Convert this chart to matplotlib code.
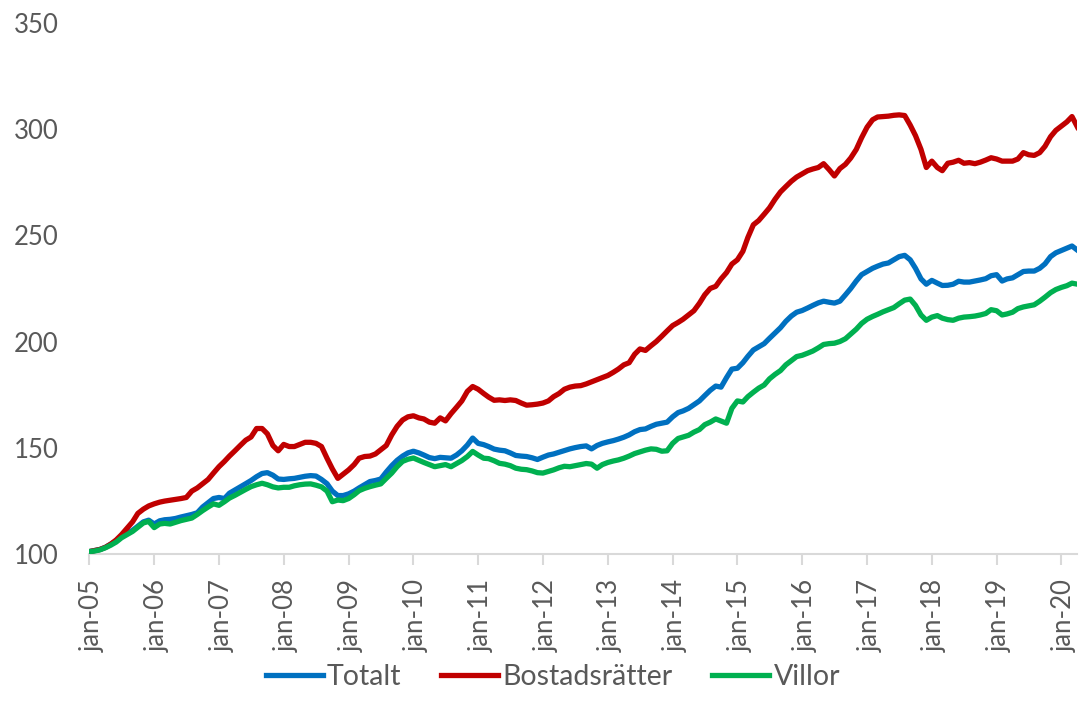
import pandas as pd
import matplotlib
matplotlib.use('Agg')
import matplotlib.pyplot as plt
import matplotlib.transforms as mtransforms

# Monthly index values, jan-05 .. apr-20
totalt = [
    101, 101.5, 102, 103, 104.5, 106, 108, 109.5, 111, 113, 115, 115.8,
    114, 115.5, 116, 116.2, 116.6, 117.3, 117.9, 118.5, 119.3, 122, 124, 126,
    126.5, 126, 128.5, 130, 131.5, 133, 134.5, 136.3, 137.8, 138.2, 137, 135.2,
    135, 135.3, 135.5, 136, 136.5, 136.8, 136.6, 135, 133, 129.5, 127.4, 127.4,
    128.2, 129.5, 131, 132.5, 134, 134.5, 135.2, 138.5, 141.5, 144, 146, 147.5,
    148.3, 147.5, 146.5, 145.3, 144.8, 145.4, 145.2, 145, 146.5, 148.5, 151.2, 154.5,
    152, 151.4, 150.5, 149.3, 148.8, 148.5, 147.5, 146.3, 146, 145.8, 145.2, 144.4,
    145.5, 146.5, 147, 147.8, 148.6, 149.4, 150, 150.5, 150.8, 149.4, 151, 152,
    152.7, 153.3, 154, 154.9, 156, 157.5, 158.5, 158.8, 160, 161, 161.5, 162,
    164.5, 166.5, 167.3, 168.5, 170.2, 172, 174.5, 177, 179, 178.5, 183, 187,
    187.4, 190, 193, 196, 197.5, 199, 201.5, 204, 206.5, 209.5, 212, 213.8,
    214.6, 215.8, 217, 218.2, 219, 218.5, 218.1, 219, 222, 225, 228.5, 231.5,
    233, 234.5, 235.5, 236.5, 237, 238.5, 240, 240.6, 238.5, 234.5, 229.5, 227,
    228.8, 227.5, 226.4, 226.5, 227, 228.4, 228, 228, 228.5, 229, 229.6, 231,
    231.5, 228.5, 229.5, 230, 231.5, 233, 233.2, 233.2, 234.5, 236.6, 240, 241.8,
    242.9, 244, 245, 243,
]

bostadsratter = [
    101, 101.5, 102, 103, 104.5, 106.5, 109, 112, 115, 119, 121, 122.5,
    123.5, 124.3, 124.8, 125.2, 125.6, 126, 126.5, 129.5, 131, 133, 135, 138,
    141, 143.5, 146, 148.5, 151, 153.5, 155, 159, 159, 156.5, 151, 148.5,
    151.5, 150.5, 150.5, 151.5, 152.5, 152.5, 152, 150.5, 145, 140, 135.5, 137.5,
    139.5, 142, 145, 145.8, 146, 147, 149, 151, 156, 160, 163, 164.5,
    165, 164, 163.5, 162, 161.5, 164, 162.6, 166, 169, 172, 176.5, 178.8,
    177.5, 175.5, 173.8, 172.3, 172.5, 172.2, 172.5, 172.2, 171, 170, 170.2, 170.5,
    171, 172, 174, 175.5, 177.5, 178.5, 179, 179.2, 180, 181, 182, 183,
    184, 185.5, 187, 189, 190, 194, 196.5, 195.8, 198, 200, 202.5, 205,
    207.5, 209, 210.5, 212.5, 214.5, 218, 222, 225, 226, 229.5, 232.5, 236.5,
    238.5, 242.5, 249, 255, 257, 260, 263, 267, 270.5, 273, 275.5, 277.5,
    279, 280.5, 281.3, 282, 283.8, 281, 278, 281.5, 283.5, 286.5, 290.5, 296,
    301, 304.5, 305.8, 306, 306.2, 306.6, 306.8, 306.5, 302, 297, 290.5, 282,
    285, 282, 280.5, 284, 284.5, 285.4, 284, 284.3, 283.8, 284.5, 285.5, 286.6,
    286, 285, 285, 285, 286, 289, 288, 287.7, 289, 292, 296.5, 299.5,
    301.5, 303.5, 306, 301,
]

villor = [
    101, 101.3, 101.8, 102.8, 104, 105.5, 107.5, 109, 110.5, 112.5, 114.5, 115.2,
    112.3, 114, 114.3, 114, 114.8, 115.6, 116.2, 116.8, 118.5, 120.3, 122, 123.5,
    122.8, 124.5, 126.2, 127.5, 128.9, 130.3, 131.6, 132.5, 133.2, 132.5, 131.5, 131,
    131.3, 131.3, 132, 132.5, 132.8, 132.9, 132.3, 131.5, 129.5, 124.5, 125.3, 125,
    126, 127.8, 129.7, 130.8, 131.6, 132.3, 132.9, 135.5, 138, 141, 143.5, 144.5,
    145.1, 144, 143, 142, 141, 141.5, 142, 141, 142.5, 143.9, 145.8, 148.2,
    146.5, 145, 144.8, 143.8, 142.6, 142.2, 141.5, 140.3, 139.8, 139.6, 139, 138.2,
    138, 138.8, 139.5, 140.5, 141.2, 141, 141.5, 142, 142.5, 142.2, 140.3, 142,
    143, 143.7, 144.2, 145, 146, 147.2, 148, 148.8, 149.4, 149.2, 148.3, 148.5,
    152, 154.3, 155, 155.8, 157.3, 158.5, 160.8, 162, 163.5, 162.5, 161.5, 168.5,
    172, 171.5, 174, 176.1, 178, 179.5, 182.4, 184.5, 186.3, 189, 191, 192.9,
    193.5, 194.5, 195.5, 197, 198.6, 199, 199.2, 200, 201.3, 203.5, 205.8, 208.5,
    210.5, 211.8, 212.8, 214, 215, 216, 217.8, 219.5, 220, 217, 212.5, 210,
    211.5, 212.2, 211, 210.3, 210, 211, 211.5, 211.7, 212, 212.5, 213.2, 215,
    214.5, 212.5, 213, 213.8, 215.5, 216.3, 216.8, 217.3, 219, 220.9, 223, 224.5,
    225.5, 226.3, 227.5, 227,
]

tick_labels = ['jan-05', 'jan-06', 'jan-07', 'jan-08', 'jan-09', 'jan-10', 'jan-11',
               'jan-12', 'jan-13', 'jan-14', 'jan-15', 'jan-16', 'jan-17', 'jan-18',
               'jan-19', 'jan-20']
y_ticks = [100, 150, 200, 250, 300, 350]

dates = pd.date_range('2005-01-01', periods=len(totalt), freq='MS')
tick_dates = pd.date_range('2005-01-01', periods=len(tick_labels), freq='YS')

plt.rcParams['font.family'] = ['Lato', 'DejaVu Sans']
txt_color = '#595959'

fig = plt.figure(figsize=(10.84, 7.14), dpi=100)
ax = fig.add_axes([0.0825, 0.2245, 0.9115, 0.743])

ax.plot(dates, totalt, color='#0070C0', lw=3.8, label='Totalt', solid_joinstyle='round')
ax.plot(dates, bostadsratter, color='#C00000', lw=3.8, label='Bostadsrätter', solid_joinstyle='round')
ax.plot(dates, villor, color='#00B050', lw=3.8, label='Villor', solid_joinstyle='round')

ax.set_xlim(dates[0], dates[-1])
ax.set_ylim(100, 350)
ax.set_yticks(y_ticks)
ax.set_xticks(tick_dates)
ax.set_xticklabels(tick_labels, rotation=90)

for s in ['top', 'right', 'left']:
    ax.spines[s].set_visible(False)
ax.spines['bottom'].set_color('#D9D9D9')
ax.spines['bottom'].set_linewidth(1.5)
ax.spines['bottom'].set_zorder(0)

ax.tick_params(axis='y', length=0, pad=22, labelsize=18.5, labelcolor=txt_color)
ax.tick_params(axis='x', length=8, width=1.5, color='#D9D9D9', pad=10,
               labelsize=18.5, labelcolor=txt_color)

# Excel draws the rotated labels slightly right of the tick
shift = mtransforms.ScaledTranslation(3 / 100, 0, fig.dpi_scale_trans)
for lbl in ax.get_xticklabels():
    lbl.set_transform(lbl.get_transform() + shift)

leg = fig.legend(loc='center', bbox_to_anchor=(0.51, 0.052), ncol=3, frameon=False,
                 fontsize=20.5, handlelength=2.0, columnspacing=1.4, handletextpad=0.15)
for t in leg.get_texts():
    t.set_color(txt_color)

fig.savefig('out.png', dpi=100)
